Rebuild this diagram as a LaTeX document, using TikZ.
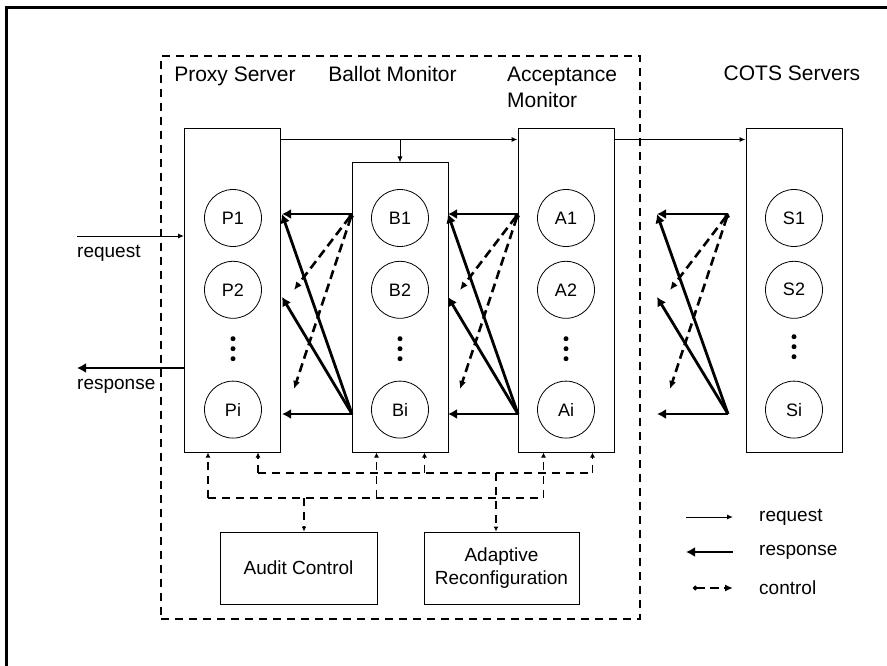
\documentclass[tikz,border=0pt]{standalone}
\usepackage{fontspec}
\setmainfont{Liberation Sans}
\usetikzlibrary{positioning, arrows.meta}

\begin{document}
\begin{tikzpicture}[
    x=1pt, y=-1pt,
    font=\fontsize{19}{23}\selectfont,
    box/.style={
        draw,
        rectangle,
        line width=1pt,
        minimum width=96pt,
        inner sep=0pt
    },
    server/.style={
        draw,
        circle,
        line width=0.8pt,
        minimum size=57pt,
        inner sep=0pt,
        font=\fontsize{18}{22}\selectfont
    },
    title/.style={
        anchor=base,
        inner sep=0pt,
        font=\fontsize{21}{26}\selectfont
    },
    group/.style={
        draw,
        rectangle,
        line width=1.1pt,
        dash pattern=on 8pt off 6pt
    },
    reqLine/.style={
        draw,
        line width=1pt,
        -{Latex[length=6pt, width=5pt]}
    },
    respLine/.style={
        draw,
        line width=2.8pt,
        -{Latex[length=9pt, width=10pt]}
    },
    ctrlLine/.style={
        draw,
        line width=2.6pt,
        dash pattern=on 9pt off 5pt,
        {Circle[length=4.5pt]}-{Latex[length=8pt, width=7pt]}
    },
    busLine/.style={
        draw,
        line width=1.2pt,
        dash pattern=on 8pt off 6pt
    },
    busArrow/.style={
        busLine,
        -{Latex[length=5pt, width=5pt]}
    }
]

\useasboundingbox (0,0) rectangle (887,666);

% --- Outer frame (runs off the page on the right and bottom) ---
\begin{scope}
    \clip (0,0) rectangle (887,666);
    \draw[line width=3pt] (6,8) rectangle (900,680);
\end{scope}

% --- Dashed group round the voting stages ---
\node[group, minimum width=479pt, minimum height=563pt] (core) at (400.5,337.5) {};

% --- Stage boxes ---
\node[box, minimum height=323pt] (proxy) at (232.5,290.5) {};
\node[box, minimum height=289pt] (ballot) at (400,307.5) {};
\node[box, minimum height=323pt] (accept) at (566,290.5) {};
\node[box, minimum height=323pt] (cots) at (794,290.5) {};

% --- Titles ---
\node[title] (proxyTitle) at (235,82) {Proxy Server};
\node[title] (ballotTitle) at (392.5,82) {Ballot Monitor};
\node[title, anchor=north west, align=left] (acceptTitle) at (507,67) {Acceptance\\Monitor};
\node[title] (cotsTitle) at (792,81) {COTS Servers};

% --- Replicas ---
\node[server] (p1) at (233,218) {P1};
\node[server, below=14pt of p1] (p2) {P2};
\node[server, below=62pt of p2] (pi) {Pi};

\node[server] (b1) at (400,218) {B1};
\node[server, below=14pt of b1] (b2) {B2};
\node[server, below=62pt of b2] (bi) {Bi};

\node[server] (a1) at (566,218) {A1};
\node[server, below=14pt of a1] (a2) {A2};
\node[server, below=62pt of a2] (ai) {Ai};

\node[server] (s1) at (794,218) {S1};
\node[server, below=14pt of s1] (s2) {S2};
\node[server, below=62pt of s2] (si) {Si};

% vertical dots between 2 and i
\fill (p2.south) ++(0,20) circle (2.5pt) ++(0,10) circle (2.5pt) ++(0,10) circle (2.5pt);
\fill (b2.south) ++(0,20) circle (2.5pt) ++(0,10) circle (2.5pt) ++(0,10) circle (2.5pt);
\fill (a2.south) ++(0,20) circle (2.5pt) ++(0,10) circle (2.5pt) ++(0,10) circle (2.5pt);
\fill (s2.south) ++(0,18) circle (2.5pt) ++(0,10) circle (2.5pt) ++(0,10) circle (2.5pt);

% --- Request path ---
\coordinate (reqTop) at ([yshift=-11pt]proxy.north east);
\draw[reqLine] (reqTop) -- (reqTop -| accept.west);
\draw[reqLine] (reqTop -| ballot.north) -- (ballot.north);
\draw[reqLine] (reqTop -| accept.east) -- (reqTop -| cots.west);

\coordinate (clientIn) at (77,236);
\draw[reqLine] (clientIn) -- (clientIn -| proxy.west);
\node[anchor=base west, inner sep=0pt] (reqLabel) at (77,258) {request};

\coordinate (clientOut) at (77,368);
\draw[respLine] (clientOut -| proxy.west) -- (clientOut);
\node[anchor=base west, inner sep=0pt] (respLabel) at (77,389) {response};

% --- Ballot -> Proxy ---
\coordinate (pbTR) at (352,214); \coordinate (pbBR) at (352,414);
\coordinate (pbTL) at (282,214); \coordinate (pbML) at (282,297); \coordinate (pbBL) at (282,414);
\coordinate (pbCA) at (294,290); \coordinate (pbCB) at (294,389);
\draw[respLine] (pbTR) -- (pbTL);
\draw[respLine] (pbBR) -- (pbBL);
\draw[respLine] (pbBR) -- (pbTL);
\draw[respLine] (pbBR) -- (pbML);
\draw[ctrlLine] (pbTR) -- (pbCA);
\draw[ctrlLine] (pbTR) -- (pbCB);

% --- Acceptance -> Ballot ---
\coordinate (baTR) at (518,214); \coordinate (baBR) at (518,414);
\coordinate (baTL) at (448,214); \coordinate (baML) at (448,297); \coordinate (baBL) at (448,414);
\coordinate (baCA) at (460,290); \coordinate (baCB) at (460,389);
\draw[respLine] (baTR) -- (baTL);
\draw[respLine] (baBR) -- (baBL);
\draw[respLine] (baBR) -- (baTL);
\draw[respLine] (baBR) -- (baML);
\draw[ctrlLine] (baTR) -- (baCA);
\draw[ctrlLine] (baTR) -- (baCB);

% --- COTS -> Acceptance ---
\coordinate (asTR) at (728,214); \coordinate (asBR) at (728,414);
\coordinate (asTL) at (657,214); \coordinate (asML) at (657,297); \coordinate (asBL) at (657,414);
\coordinate (asCA) at (670,290); \coordinate (asCB) at (670,389);
\draw[respLine] (asTR) -- (asTL);
\draw[respLine] (asBR) -- (asBL);
\draw[respLine] (asBR) -- (asTL);
\draw[respLine] (asBR) -- (asML);
\draw[ctrlLine] (asTR) -- (asCA);
\draw[ctrlLine] (asTR) -- (asCB);

% --- Control units ---
\node[box, minimum width=157pt, minimum height=72pt] (audit) at (298.5,568) {Audit Control};
\node[box, minimum width=155pt, minimum height=72pt, align=center] (adapt) at (501.5,568) {Adaptive\\Reconfiguration};

% control buses under the stages
\coordinate (lowBus) at (0,498);
\coordinate (upBus) at (0,473);
\coordinate (pxA) at ([xshift=24pt]proxy.south west);
\coordinate (pxB) at ([xshift=-23pt]proxy.south east);
\coordinate (blA) at ([xshift=25pt]ballot.south west);
\coordinate (blB) at ([xshift=-24pt]ballot.south east);
\coordinate (acA) at ([xshift=26pt]accept.south west);
\coordinate (acB) at ([xshift=-22pt]accept.south east);

\draw[busLine] (pxA |- lowBus) -- (acA |- lowBus);
\draw[busLine] (pxB |- upBus) -- (acB |- upBus);
\draw[busArrow] (pxA |- lowBus) -- (pxA);
\draw[busArrow] (blA |- lowBus) -- (blA);
\draw[busArrow] (acA |- lowBus) -- (acA);
\draw[busArrow] (pxB |- upBus) -- (pxB);
\draw[busArrow] (blB |- upBus) -- (blB);
\draw[busArrow] (acB |- upBus) -- (acB);
\draw[busArrow] ([xshift=5.5pt]audit.north |- lowBus) -- ([xshift=5.5pt]audit.north);
\draw[busArrow] ([xshift=-5.5pt]adapt.north |- upBus) -- ([xshift=-5.5pt]adapt.north);

% --- Legend ---
\node[anchor=west, inner sep=0pt] (legReq) at (759,517) {request};
\node[anchor=west, inner sep=0pt] (legResp) at (759,552) {response};
\node[anchor=west, inner sep=0pt] (legCtrl) at (759,588) {control};
\draw[reqLine] ([xshift=-73pt]legReq.west) -- ([xshift=-26pt]legReq.west);
\draw[respLine] ([xshift=-26pt]legResp.west) -- ([xshift=-73pt]legResp.west);
\draw[ctrlLine] ([xshift=-66pt]legCtrl.west) -- ([xshift=-26pt]legCtrl.west);

\end{tikzpicture}
\end{document}
